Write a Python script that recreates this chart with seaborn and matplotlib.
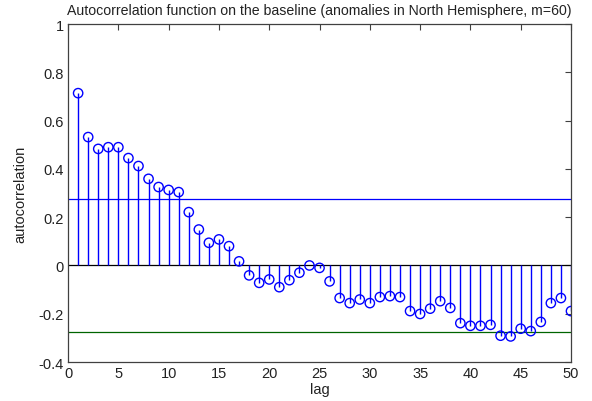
import numpy as np
import pandas as pd
import matplotlib
matplotlib.use("Agg")
import matplotlib.pyplot as plt
import seaborn as sns

lags = list(range(1, 51))
acf = [0.714, 0.532, 0.483, 0.490, 0.490, 0.445, 0.412, 0.359, 0.325, 0.313,
       0.304, 0.221, 0.149, 0.094, 0.108, 0.080, 0.017, -0.041, -0.072, -0.058,
       -0.090, -0.061, -0.030, 0.000, -0.010, -0.066, -0.135, -0.156, -0.141, -0.156,
       -0.131, -0.127, -0.131, -0.189, -0.201, -0.179, -0.148, -0.176, -0.239, -0.250,
       -0.250, -0.246, -0.291, -0.294, -0.262, -0.272, -0.234, -0.156, -0.135, -0.189]
conf_upper = 0.276
conf_lower = -0.276
title = "Autocorrelation function on the baseline (anomalies in North Hemisphere, m=60)"
xticks = [0, 5, 10, 15, 20, 25, 30, 35, 40, 45, 50]
yticks = [-0.4, -0.2, 0, 0.2, 0.4, 0.6, 0.8, 1]
ytick_labels = ["-0.4", "-0.2", "0", "0.2", "0.4", "0.6", "0.8", "1"]

sns.set_style("white")
plt.rcParams['font.family'] = ['Liberation Sans', 'DejaVu Sans']

df = pd.DataFrame({"lag": lags, "acf": acf})

fig = plt.figure(figsize=(5.92, 4.02), dpi=100)
ax = fig.add_axes([0.115, 0.097, 0.8495, 0.8405])

ax.vlines(df["lag"], 0, df["acf"], color="#0000ff", linewidth=1.0, zorder=2)
sns.scatterplot(data=df, x="lag", y="acf", ax=ax, marker="o", s=45,
                facecolor="none", edgecolor="#0000ff", linewidth=1.0, zorder=3)
ax.axhline(0, color="#000000", linewidth=0.9, zorder=1)
ax.axhline(conf_upper, color="#0000ff", linewidth=0.9, zorder=1)
ax.axhline(conf_lower, color="#006400", linewidth=0.9, zorder=1)

ax.set_xlim(0, 50)
ax.set_ylim(-0.4, 1)
ax.set_xticks(xticks)
ax.set_yticks(yticks)
ax.set_yticklabels(ytick_labels)
ax.tick_params(direction="in", length=4, width=0.8, top=True, right=True,
               labelsize=10.5, colors="#404040", labelcolor="#222222", pad=3)
for s in ax.spines.values():
    s.set_color("#404040")
    s.set_linewidth(0.9)
ax.set_xlabel("lag", fontsize=10.5, color="#222222", labelpad=1)
ax.set_ylabel("autocorrelation", fontsize=10.5, color="#222222", labelpad=8)
ax.set_title(title, fontsize=10.2, color="#222222", pad=7)

fig.savefig("out.png", dpi=100)
